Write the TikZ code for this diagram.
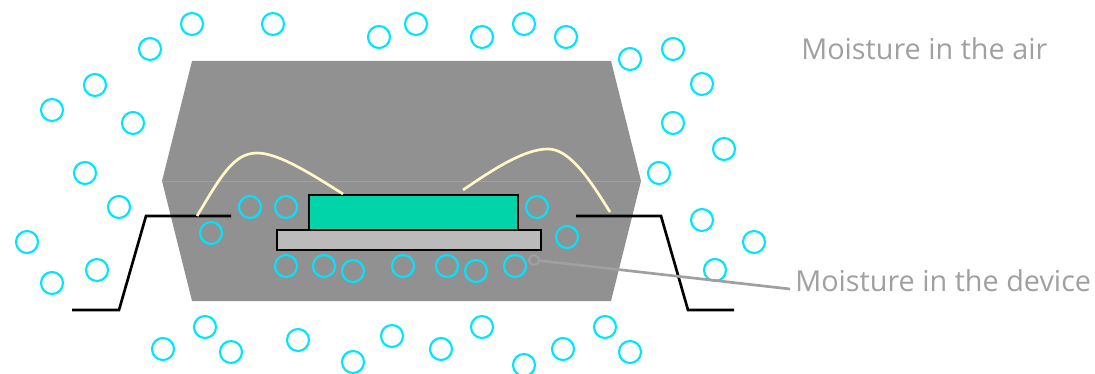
\documentclass[tikz,border=0pt]{standalone}
\usepackage{fontspec}
\setmainfont{Open Sans}
\usepackage{xcolor}
\definecolor{moistcol}{HTML}{00E5FF}
\definecolor{packcol}{HTML}{919191}
\definecolor{chipcol}{HTML}{00D4A8}
\definecolor{subcol}{HTML}{BBBBBB}
\definecolor{wirecol}{HTML}{FFF8C8}
\definecolor{greyc}{HTML}{A0A0A0}
\begin{document}
\begin{tikzpicture}[x=0.75pt,y=-0.75pt,
  drop/.style={circle,draw=moistcol,line width=1.6pt,minimum size=16.5pt,inner sep=0pt},
  lead/.style={draw=black,line width=2pt,miter limit=10},
  wire/.style={draw=wirecol,line width=2pt},
  lab/.style={text=greyc,font=\fontsize{21.6pt}{24pt}\selectfont,inner sep=0pt,anchor=base west},
]
\useasboundingbox (0,0) rectangle (1095,374);
\fill[packcol] (192,61) -- (611,61) -- (641,181) -- (611,301) -- (192,301) -- (162,181) -- cycle;
\draw[packcol!85!white,line width=0.5pt] (162,181) -- (641,181);

% moisture outside
\foreach \x/\y in {150/49,192/24,273/24,379/37,416/24,482/37,524/24,566/37,630/59,673/49,
  702/84,673/123,724/149,659/173,702/220,754/242,715/270,95/85,52/110,133/123,85/173,
  119/207,27/242,52/283,97/270,205/327,163/349,231/352,298/340,353/362,392/336,441/349,
  482/327,524/365,563/349,605/327,630/352}
  \node[drop] at (\x,\y) {};
% moisture inside
\foreach \x/\y in {250/207,286/207,211/233,286/266,324/266,353/271,403/266,447/266,
  476/271,515/266,537/207,567/237}
  \node[drop] at (\x,\y) {};

\draw[lead,fill=chipcol] (309,195) rectangle (518,230);
\draw[lead,fill=subcol] (277,230) rectangle (541,250);
\draw[lead] (72,310) -- (119,310) -- (146,216) -- (231,216);
\draw[lead] (576,216) -- (661,216) -- (688,310) -- (734,310);
\draw[wire] (197,216) .. controls (220,178) and (233,153) .. (257,153)
  .. controls (278,153) and (310,173) .. (343,194);
\draw[wire] (463,190) .. controls (495,168) and (525,149) .. (548,149)
  .. controls (570,149) and (590,180) .. (610,212);

\node[lab] (air) at (801,60) {Moisture in the air};
\node[lab] (device) at (795,291) {Moisture in the device};
\node[circle,draw=greyc,line width=1.5pt,minimum size=7.5pt,inner sep=0pt] (spot) at (534,260) {};
\coordinate (devend) at (790,289);
\draw[greyc,line width=2pt] (spot) -- (devend);
\end{tikzpicture}
\end{document}
